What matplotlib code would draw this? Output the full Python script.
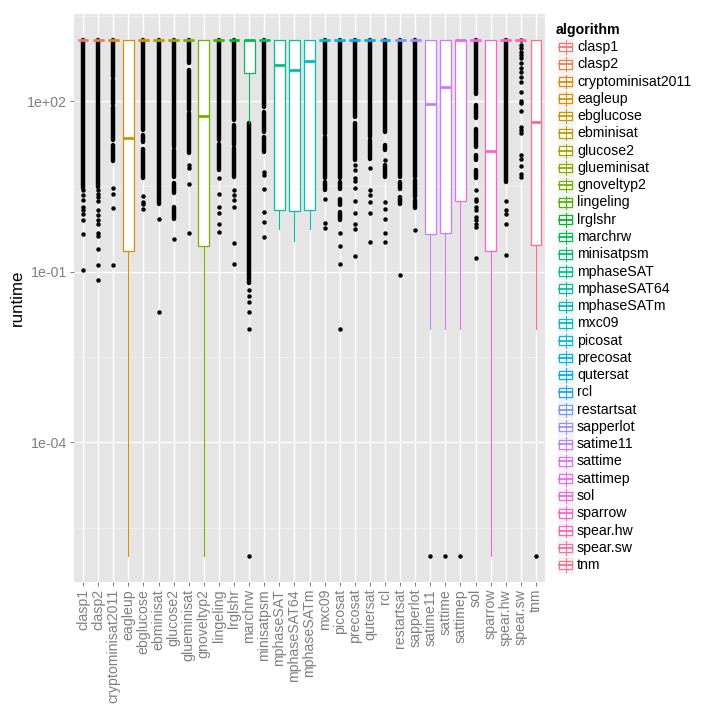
import numpy as np
import matplotlib
matplotlib.use('Agg')
import matplotlib.pyplot as plt
from matplotlib.patches import Rectangle

plt.rcParams['font.family'] = ['Liberation Sans', 'DejaVu Sans']

# data (runtime, log scale)
TIMEOUT = 1200.0
algorithms = ['clasp1', 'clasp2', 'cryptominisat2011', 'eagleup', 'ebglucose', 'ebminisat',
              'glucose2', 'glueminisat', 'gnoveltyp2', 'lingeling', 'lrglshr', 'marchrw',
              'minisatpsm', 'mphaseSAT', 'mphaseSAT64', 'mphaseSATm', 'mxc09', 'picosat',
              'precosat', 'qutersat', 'rcl', 'restartsat', 'sapperlot', 'satime11', 'sattime',
              'sattimep', 'sol', 'sparrow', 'spear.hw', 'spear.sw', 'tnm']

T = TIMEOUT
q1_vals  = [T, T, T, 0.229, T, T, T, T, 0.28, T, T, 308, T, 1.2, 1.19, 1.24, T, T,
            T, T, T, T, T, 0.455, 0.49, 1.73, T, 0.229, T, T, 0.30]
med_vals = [T, T, T, 22.6, T, T, T, T, 54.5, T, T, T, T, 430, 352, 513, T, T,
            T, T, T, T, T, 88.5, 176, T, T, 13.3, T, T, 42.7]
q3_vals  = [T] * 31
wlo_vals = [T, T, T, 1e-6, T, T, T, T, 1e-6, T, T, 41.5, T, 0.557, 0.347, 0.557, T, T,
            T, T, T, T, T, 0.01, 0.01, 0.01, T, 1e-6, T, T, 0.01]
whi_vals = [T] * 31

# outliers: stretches where dots overlap into a solid column (hi, lo) ...
dense_runs = {
    'clasp1': [(T, 3.0)],
    'clasp2': [(T, 3.1)],
    'cryptominisat2011': [(T, 270), (234, 91), (79, 20.4), (16.8, 8.9)],
    'ebglucose': [(T, 31), (25, 19), (14.7, 4.4)],
    'ebminisat': [(T, 1.58)],
    'glucose2': [(T, 15.7), (13.8, 4.7), (3.6, 2.4), (1.38, 0.86)],
    'glueminisat': [(T, 470), (355, 69), (62, 12.2)],
    'lingeling': [(T, 20.4), (18, 6.1)],
    'lrglshr': [(T, 46), (38, 16.8), (14.8, 4.65)],
    'marchrw': [(41.5, 0.063)],
    'minisatpsm': [(T, 79), (65, 29), (23.5, 12.9)],
    'mxc09': [(T, 27), (23.5, 4.4), (3.8, 2.7)],
    'picosat': [(T, 4.4), (3.8, 2.9), (1.94, 1.49), (1.12, 0.80)],
    'precosat': [(T, 53), (41, 9.1)],
    'qutersat': [(T, 23.5), (20.4, 9.8)],
    'rcl': [(T, 29), (16.8, 13.7), (7.5, 4.65)],
    'restartsat': [(T, 4.65), (3.8, 2.9), (2.07, 1.58)],
    'sapperlot': [(T, 4.65), (4.1, 2.07), (1.8, 1.32)],
    'sol': [(T, 136), (85, 50), (33, 15.7), (11.2, 9.1), (6.1, 4.4)],
    'spear.hw': [(T, 3.8)],
}
# ... and single outlier points
outliers = {
    'clasp1': [2.71, 2.21, 1.86, 1.38, 1.2, 1.03, 0.80, 0.47, 0.109],
    'clasp2': [2.7, 2.3, 2.07, 1.76, 1.2, 0.99, 0.80, 0.70, 0.48, 0.42, 0.25, 0.13, 0.071],
    'cryptominisat2011': [3.0, 2.3, 1.32, 0.13],
    'ebglucose': [2.15, 1.69, 1.58, 1.26],
    'ebminisat': [0.86, 0.0195],
    'glucose2': [0.38],
    'glueminisat': [7.5, 6.8, 3.55, 0.48],
    'lingeling': [4.4, 2.37, 1.38, 1.08, 0.70, 0.50],
    'lrglshr': [2.8, 2.28, 1.8, 1.38, 0.32, 0.139],
    'marchrw': [0.047, 0.038, 0.0295, 0.0195, 0.01, 1e-6],
    'minisatpsm': [5.7, 5.0, 2.9, 1.12, 0.76, 0.41],
    'mxc09': [1.94, 0.72, 0.60],
    'picosat': [0.49, 0.29, 0.139, 0.01],
    'precosat': [7.5, 6.1, 4.4, 4.0, 2.95, 1.76, 1.08, 0.70, 0.57, 0.186],
    'qutersat': [6.7, 2.7, 2.2, 1.69, 1.07, 0.33],
    'rcl': [9.3, 1.69, 1.26, 0.84, 0.48, 0.33],
    'restartsat': [0.089],
    'sapperlot': [0.55],
    'satime11': [1e-6],
    'sattime': [1e-6],
    'sattimep': [1e-6],
    'sol': [2.7, 1.94, 1.76, 1.38, 1.2, 0.92, 0.80, 0.70, 0.61, 0.178],
    'spear.hw': [1.78, 1.2, 1.05, 0.68, 0.2],
    'spear.sw': [T, 968, 847, 738, 646, 565, 461, 377, 328, 268, 219, 146, 101, 93, 67,
                 35.3, 30.9, 27.7, 11.2, 9.8, 7.2, 5.3, 4.65],
    'tnm': [1e-6],
}


def hcl_color(h, c=100.0, l=65.0):
    # ggplot2 hue palette (polar LUV -> sRGB)
    hr = np.radians(h)
    u, v = c * np.cos(hr), c * np.sin(hr)
    Xn, Yn, Zn = 95.047, 100.0, 108.883
    den = Xn + 15 * Yn + 3 * Zn
    un, vn = 4 * Xn / den, 9 * Yn / den
    Y = Yn * ((l + 16) / 116) ** 3
    up, vp = u / (13 * l) + un, v / (13 * l) + vn
    X = 9 * Y * up / (4 * vp)
    Z = -X / 3 - 5 * Y + 3 * Y / vp
    M = np.array([[3.240479, -1.537150, -0.498535],
                  [-0.969256, 1.875992, 0.041556],
                  [0.055648, -0.204043, 1.057311]])
    rgb = M @ (np.array([X, Y, Z]) / 100)
    rgb = np.where(rgb <= 0.0031308, 12.92 * rgb, 1.055 * np.abs(rgb) ** (1 / 2.4) - 0.055)
    return tuple(np.clip(rgb, 0, 1))


n = len(algorithms)
hues = np.linspace(15, 375, n + 1)[:n]
colors = [hcl_color(h) for h in hues]

W, H = 720, 720
fig = plt.figure(figsize=(7.2, 7.2), dpi=100)
px_l, px_r, px_t, px_b = 74, 545, 14, 582
ax = fig.add_axes([px_l / W, 1 - px_b / H, (px_r - px_l) / W, (px_b - px_t) / H])
ax.set_facecolor('#E5E5E5')
ax.set_yscale('log')
ax.set_ylim(10 ** -6.454, 10 ** 3.533)
ax.set_xlim(-0.6, n - 0.4)

# grid
for lv in [3.5, 0.5, -2.5, -5.5]:
    ax.axhline(10 ** lv, color='#F2F2F2', lw=0.6, zorder=0.5)
for lv in [2, -1, -4]:
    ax.axhline(10 ** lv, color='white', lw=1.0, zorder=0.6)
for i in range(n):
    ax.axvline(i, color='white', lw=1.0, zorder=0.6)

ms = 3.2
pos = np.arange(n)
for i, name in enumerate(algorithms):
    for hi, lo in dense_runs.get(name, []):
        ax.plot([i, i], [hi, lo], color='black', lw=ms, solid_capstyle='round', zorder=2)
    pts = outliers.get(name, [])
    if pts:
        ax.plot([i] * len(pts), pts, 'o', color='black', ms=ms, mew=0, zorder=2)

stats = [dict(med=med_vals[i], q1=q1_vals[i], q3=q3_vals[i], whislo=wlo_vals[i],
              whishi=whi_vals[i], fliers=[]) for i in range(n)]
bp = ax.bxp(stats, positions=pos, widths=0.72, patch_artist=True, showcaps=False,
            showfliers=False, manage_ticks=False, zorder=3)
for i in range(n):
    c = colors[i]
    bp['boxes'][i].set(facecolor='white', edgecolor=c, lw=0.9, zorder=3)
    bp['medians'][i].set(color=c, lw=2.0, zorder=3.5, solid_capstyle='butt')
    for wk in bp['whiskers'][2 * i:2 * i + 2]:
        wk.set(color=c, lw=0.8, zorder=2.5)

for s in ax.spines.values():
    s.set_visible(False)
ax.set_yticks([1e2, 1e-1, 1e-4])
ax.set_yticklabels(['1e+02', '1e-01', '1e-04'])
ax.yaxis.set_minor_locator(matplotlib.ticker.NullLocator())
ax.set_xticks(pos)
ax.set_xticklabels(algorithms, rotation=90)
ax.tick_params(axis='both', colors='#7F7F7F', labelcolor='#7F7F7F', labelsize=10.2,
               length=3, width=0.7, pad=2)
ax.set_ylabel('runtime', fontsize=12.2, color='black', labelpad=2)

# legend, drawn in pixel coordinates
lax = fig.add_axes([0, 0, 1, 1], zorder=5)
lax.set_xlim(0, W)
lax.set_ylim(H, 0)
lax.axis('off')
lax.text(556, 30, 'algorithm', fontsize=10.2, fontweight='bold', va='center', ha='left')
key = 17.3
for i, name in enumerate(algorithms):
    yc = 47 + 17.27 * i
    x0 = 557
    c = colors[i]
    lax.add_patch(Rectangle((x0, yc - key / 2), key, key, facecolor='#F2F2F2',
                            edgecolor='white', lw=0.5))
    lax.plot([x0 + key / 2] * 2, [yc - key * 0.4, yc + key * 0.4], color=c, lw=0.7)
    lax.add_patch(Rectangle((x0 + key * 0.125, yc - key * 0.25), key * 0.75, key * 0.5,
                            facecolor='white', edgecolor=c, lw=0.9))
    lax.plot([x0 + key * 0.125, x0 + key * 0.875], [yc, yc], color=c, lw=1.3)
    lax.text(577, yc, name, fontsize=10.2, va='center', ha='left')

fig.savefig('out.png', dpi=100)
